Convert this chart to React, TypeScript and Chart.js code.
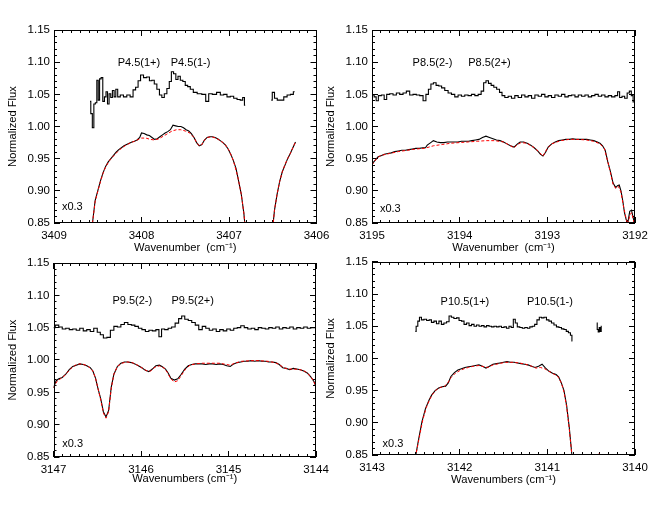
import React, { useEffect, useRef } from 'react';
import { Chart, registerables } from 'chart.js';

Chart.register(...registerables);

const FONT = '"Liberation Sans", Arial, sans-serif';
type Pt = [number, number | null];

const Y_TICKS = [0.85, 0.9, 0.95, 1.0, 1.05, 1.1, 1.15];

// ---------------- Panel 1 ----------------
const p1Ticks = [3409, 3408, 3407, 3406];
const p1Upper: Pt[] = [
  [3408.588, 1.039], [3408.571, 1.020], [3408.553, 0.998], [3408.536, 1.035], [3408.519, 1.037],
  [3408.502, 1.072], [3408.487, 1.041], [3408.471, 1.074], [3408.452, 1.076], [3408.433, 1.039],
  [3408.414, 1.046], [3408.397, 1.054], [3408.380, 1.035], [3408.361, 1.051], [3408.342, 1.045],
  [3408.323, 1.056], [3408.303, 1.046], [3408.284, 1.058], [3408.260, 1.046], [3408.225, 1.049],
  [3408.187, 1.046], [3408.149, 1.049], [3408.111, 1.046], [3408.082, 1.057], [3408.053, 1.061],
  [3408.025, 1.071], [3407.996, 1.080], [3407.958, 1.076], [3407.924, 1.077], [3407.895, 1.071],
  [3407.868, 1.072], [3407.840, 1.066], [3407.809, 1.058], [3407.781, 1.049], [3407.754, 1.045],
  [3407.725, 1.051], [3407.695, 1.059], [3407.670, 1.070], [3407.647, 1.085], [3407.620, 1.082],
  [3407.595, 1.073], [3407.571, 1.078], [3407.542, 1.072], [3407.513, 1.070], [3407.487, 1.064],
  [3407.458, 1.062], [3407.427, 1.058], [3407.389, 1.053], [3407.338, 1.051], [3407.284, 1.050],
  [3407.248, 1.039], [3407.216, 1.051], [3407.166, 1.050], [3407.118, 1.053], [3407.080, 1.049],
  [3407.042, 1.050], [3407.004, 1.046], [3406.966, 1.047], [3406.927, 1.044], [3406.889, 1.042],
  [3406.855, 1.041], [3406.832, 1.045], [3406.815, 1.033], [3406.670, null],
  [3406.517, 1.041], [3406.494, 1.053], [3406.466, 1.044], [3406.431, 1.041], [3406.393, 1.041],
  [3406.355, 1.046], [3406.317, 1.049], [3406.279, 1.050], [3406.250, 1.054],
];
const p1Lower: Pt[] = [
  [3408.62, 0.78], [3408.56, 0.85], [3408.53, 0.885], [3408.50, 0.900], [3408.47, 0.915],
  [3408.44, 0.928], [3408.41, 0.938], [3408.38, 0.945], [3408.35, 0.950], [3408.32, 0.955],
  [3408.29, 0.960], [3408.26, 0.964], [3408.23, 0.967], [3408.20, 0.970], [3408.17, 0.972],
  [3408.14, 0.974], [3408.11, 0.976], [3408.08, 0.977], [3408.05, 0.979], [3408.02, 0.983],
  [3408.00, 0.990], [3407.97, 0.989], [3407.94, 0.987], [3407.91, 0.986], [3407.88, 0.983],
  [3407.85, 0.980], [3407.82, 0.981], [3407.79, 0.984], [3407.76, 0.987], [3407.73, 0.990],
  [3407.70, 0.992], [3407.67, 0.995], [3407.64, 1.002], [3407.61, 1.001], [3407.58, 1.000],
  [3407.55, 1.000], [3407.52, 0.998], [3407.49, 0.995], [3407.46, 0.993], [3407.43, 0.989],
  [3407.40, 0.983], [3407.37, 0.975], [3407.34, 0.970], [3407.31, 0.972], [3407.28, 0.979],
  [3407.25, 0.983], [3407.22, 0.984], [3407.19, 0.984], [3407.16, 0.983], [3407.13, 0.981],
  [3407.10, 0.978], [3407.07, 0.975], [3407.04, 0.971], [3407.01, 0.965], [3406.98, 0.957],
  [3406.95, 0.947], [3406.92, 0.935], [3406.89, 0.915], [3406.86, 0.895], [3406.83, 0.865],
  [3406.80, 0.82], [3406.76, 0.75], [3406.55, 0.75], [3406.51, 0.83], [3406.48, 0.87],
  [3406.45, 0.895], [3406.42, 0.915], [3406.39, 0.930], [3406.36, 0.940], [3406.33, 0.950],
  [3406.30, 0.958], [3406.27, 0.967], [3406.24, 0.976],
];
const p1Model: Pt[] = [
  [3408.62, 0.78], [3408.56, 0.85], [3408.53, 0.883], [3408.50, 0.899], [3408.47, 0.914],
  [3408.44, 0.927], [3408.41, 0.937], [3408.38, 0.944], [3408.35, 0.950], [3408.30, 0.957],
  [3408.25, 0.964], [3408.20, 0.969], [3408.15, 0.973], [3408.10, 0.976], [3408.05, 0.979],
  [3408.00, 0.982], [3407.95, 0.982], [3407.90, 0.980], [3407.85, 0.979], [3407.80, 0.981],
  [3407.75, 0.985], [3407.70, 0.989], [3407.65, 0.993], [3407.60, 0.995], [3407.55, 0.995],
  [3407.50, 0.993], [3407.45, 0.990], [3407.40, 0.983], [3407.37, 0.975], [3407.34, 0.970],
  [3407.31, 0.972], [3407.28, 0.979], [3407.25, 0.983], [3407.20, 0.984], [3407.15, 0.982],
  [3407.10, 0.978], [3407.05, 0.973], [3407.00, 0.963], [3406.95, 0.947], [3406.90, 0.922],
  [3406.86, 0.895], [3406.83, 0.865], [3406.80, 0.82], [3406.76, 0.75], [3406.55, 0.75],
  [3406.51, 0.83], [3406.48, 0.87], [3406.45, 0.895], [3406.42, 0.915], [3406.39, 0.930],
  [3406.36, 0.941], [3406.33, 0.950], [3406.30, 0.958], [3406.27, 0.967], [3406.24, 0.976],
];
const p1Labels = [
  { text: 'P4.5(1+)', wn: 3408.03, f: 1.099, align: 'center' },
  { text: 'P4.5(1-)', wn: 3407.44, f: 1.099, align: 'center' },
  { text: 'x0.3', wn: 3408.91, f: 0.875, align: 'left' },
];

// ---------------- Panel 2 ----------------
const p2Ticks = [3195, 3194, 3193, 3192];
const p2Upper: Pt[] = [
  [3194.989, 1.049], [3194.962, 1.046], [3194.943, 1.040], [3194.912, 1.048], [3194.874, 1.049],
  [3194.848, 1.042], [3194.817, 1.050], [3194.779, 1.051], [3194.741, 1.049], [3194.703, 1.052],
  [3194.665, 1.050], [3194.627, 1.052], [3194.589, 1.055], [3194.551, 1.049], [3194.513, 1.050],
  [3194.475, 1.049], [3194.437, 1.048], [3194.398, 1.040], [3194.372, 1.050], [3194.341, 1.058],
  [3194.315, 1.066], [3194.284, 1.068], [3194.254, 1.064], [3194.223, 1.063], [3194.189, 1.060],
  [3194.151, 1.056], [3194.113, 1.052], [3194.075, 1.050], [3194.037, 1.046], [3193.999, 1.049],
  [3193.961, 1.047], [3193.923, 1.049], [3193.885, 1.048], [3193.846, 1.050], [3193.808, 1.048],
  [3193.770, 1.050], [3193.740, 1.055], [3193.713, 1.068], [3193.687, 1.071], [3193.656, 1.067],
  [3193.626, 1.064], [3193.595, 1.061], [3193.561, 1.058], [3193.530, 1.053], [3193.504, 1.048],
  [3193.466, 1.045], [3193.428, 1.047], [3193.390, 1.044], [3193.352, 1.048], [3193.313, 1.045],
  [3193.275, 1.049], [3193.237, 1.046], [3193.199, 1.048], [3193.161, 1.044], [3193.123, 1.049],
  [3193.085, 1.047], [3193.047, 1.050], [3193.009, 1.046], [3192.971, 1.048], [3192.933, 1.045],
  [3192.895, 1.049], [3192.857, 1.047], [3192.819, 1.050], [3192.781, 1.046], [3192.742, 1.048],
  [3192.704, 1.049], [3192.666, 1.046], [3192.628, 1.049], [3192.590, 1.047], [3192.552, 1.049],
  [3192.514, 1.046], [3192.476, 1.048], [3192.438, 1.050], [3192.400, 1.047], [3192.362, 1.049],
  [3192.324, 1.046], [3192.286, 1.048], [3192.248, 1.046], [3192.210, 1.048], [3192.187, 1.054],
  [3192.164, 1.045], [3192.133, 1.047], [3192.103, 1.044], [3192.076, 1.052], [3192.053, 1.055],
  [3192.031, 1.048], [3192.012, 1.038],
];
const p2Lower: Pt[] = [
  [3195.00, 0.942], [3194.96, 0.948], [3194.93, 0.953], [3194.89, 0.955], [3194.86, 0.957],
  [3194.82, 0.958], [3194.78, 0.959], [3194.74, 0.961], [3194.70, 0.962], [3194.66, 0.963],
  [3194.62, 0.963], [3194.58, 0.964], [3194.54, 0.965], [3194.50, 0.966], [3194.46, 0.966],
  [3194.42, 0.967], [3194.39, 0.967], [3194.37, 0.971], [3194.33, 0.975], [3194.30, 0.978],
  [3194.26, 0.976], [3194.22, 0.975], [3194.18, 0.975], [3194.14, 0.976], [3194.10, 0.976],
  [3194.06, 0.976], [3194.02, 0.976], [3193.98, 0.977], [3193.94, 0.977], [3193.90, 0.977],
  [3193.86, 0.978], [3193.82, 0.979], [3193.78, 0.980], [3193.74, 0.983], [3193.70, 0.985],
  [3193.66, 0.983], [3193.62, 0.981], [3193.58, 0.979], [3193.54, 0.978], [3193.50, 0.976],
  [3193.46, 0.973], [3193.42, 0.970], [3193.38, 0.968], [3193.34, 0.973], [3193.31, 0.976],
  [3193.27, 0.976], [3193.23, 0.974], [3193.19, 0.971], [3193.15, 0.967], [3193.11, 0.962],
  [3193.08, 0.957], [3193.05, 0.954], [3193.02, 0.960], [3192.99, 0.968], [3192.95, 0.973],
  [3192.91, 0.976], [3192.87, 0.978], [3192.83, 0.979], [3192.79, 0.980], [3192.75, 0.980],
  [3192.71, 0.981], [3192.67, 0.980], [3192.63, 0.980], [3192.59, 0.980], [3192.55, 0.980],
  [3192.51, 0.979], [3192.47, 0.978], [3192.43, 0.976], [3192.40, 0.974], [3192.37, 0.970],
  [3192.34, 0.963], [3192.31, 0.945], [3192.28, 0.930], [3192.25, 0.912], [3192.22, 0.905],
  [3192.20, 0.908], [3192.18, 0.909], [3192.16, 0.900], [3192.14, 0.885], [3192.12, 0.866],
  [3192.10, 0.855], [3192.08, 0.852], [3192.06, 0.868], [3192.04, 0.870], [3192.02, 0.858],
  [3192.00, 0.845],
];
const p2Model: Pt[] = [
  [3195.00, 0.940], [3194.95, 0.950], [3194.90, 0.955], [3194.80, 0.958], [3194.70, 0.961],
  [3194.60, 0.963], [3194.50, 0.965], [3194.40, 0.966], [3194.30, 0.970], [3194.20, 0.972],
  [3194.10, 0.974], [3194.00, 0.975], [3193.90, 0.976], [3193.80, 0.977], [3193.70, 0.978],
  [3193.60, 0.978], [3193.50, 0.976], [3193.42, 0.970], [3193.38, 0.967], [3193.34, 0.972],
  [3193.30, 0.975], [3193.23, 0.974], [3193.15, 0.967], [3193.10, 0.961], [3193.05, 0.954],
  [3193.00, 0.966], [3192.95, 0.973], [3192.85, 0.978], [3192.75, 0.980], [3192.65, 0.980],
  [3192.55, 0.979], [3192.47, 0.977], [3192.40, 0.973], [3192.35, 0.966], [3192.31, 0.945],
  [3192.28, 0.928], [3192.25, 0.910], [3192.22, 0.904], [3192.19, 0.907], [3192.16, 0.898],
  [3192.13, 0.875], [3192.10, 0.856], [3192.08, 0.848], [3192.06, 0.862], [3192.04, 0.866],
  [3192.02, 0.856], [3192.00, 0.845],
];
const p2Labels = [
  { text: 'P8.5(2-)', wn: 3194.31, f: 1.099, align: 'center' },
  { text: 'P8.5(2+)', wn: 3193.66, f: 1.099, align: 'center' },
  { text: 'x0.3', wn: 3194.91, f: 0.872, align: 'left' },
];

// ---------------- Panel 3 ----------------
const p3Ticks = [3147, 3146, 3145, 3144];
const p3Upper: Pt[] = [
  [3147.00, 1.050], [3146.96, 1.054], [3146.92, 1.051], [3146.88, 1.048], [3146.84, 1.049],
  [3146.80, 1.047], [3146.76, 1.048], [3146.72, 1.046], [3146.68, 1.049], [3146.64, 1.045],
  [3146.60, 1.047], [3146.56, 1.044], [3146.52, 1.049], [3146.48, 1.043], [3146.45, 1.039],
  [3146.41, 1.034], [3146.37, 1.035], [3146.33, 1.046], [3146.29, 1.052], [3146.25, 1.051],
  [3146.21, 1.055], [3146.17, 1.058], [3146.13, 1.055], [3146.09, 1.054], [3146.05, 1.052],
  [3146.01, 1.049], [3145.97, 1.047], [3145.93, 1.044], [3145.89, 1.046], [3145.85, 1.045],
  [3145.81, 1.047], [3145.78, 1.036], [3145.75, 1.048], [3145.71, 1.047], [3145.67, 1.049],
  [3145.63, 1.051], [3145.59, 1.057], [3145.55, 1.064], [3145.52, 1.068], [3145.48, 1.063],
  [3145.44, 1.061], [3145.40, 1.058], [3145.36, 1.054], [3145.32, 1.047], [3145.28, 1.052],
  [3145.24, 1.049], [3145.20, 1.046], [3145.16, 1.048], [3145.12, 1.044], [3145.08, 1.047],
  [3145.04, 1.045], [3145.00, 1.048], [3144.96, 1.046], [3144.92, 1.049], [3144.88, 1.050],
  [3144.84, 1.053], [3144.80, 1.050], [3144.76, 1.048], [3144.72, 1.049], [3144.68, 1.047],
  [3144.64, 1.050], [3144.60, 1.049], [3144.56, 1.048], [3144.52, 1.050], [3144.48, 1.049],
  [3144.44, 1.051], [3144.40, 1.048], [3144.36, 1.050], [3144.32, 1.049], [3144.28, 1.051],
  [3144.24, 1.048], [3144.20, 1.050], [3144.16, 1.049], [3144.12, 1.051], [3144.08, 1.049],
  [3144.04, 1.050], [3144.00, 1.050],
];
const p3Lower: Pt[] = [
  [3147.00, 0.957], [3146.97, 0.968], [3146.94, 0.971], [3146.90, 0.973], [3146.86, 0.978],
  [3146.82, 0.985], [3146.78, 0.990], [3146.74, 0.992], [3146.70, 0.994], [3146.66, 0.993],
  [3146.62, 0.991], [3146.58, 0.988], [3146.55, 0.983], [3146.52, 0.972], [3146.49, 0.955],
  [3146.46, 0.940], [3146.43, 0.920], [3146.40, 0.912], [3146.37, 0.922], [3146.34, 0.958],
  [3146.31, 0.978], [3146.27, 0.990], [3146.23, 0.995], [3146.19, 0.997], [3146.15, 0.997],
  [3146.11, 0.996], [3146.07, 0.994], [3146.03, 0.991], [3145.99, 0.988], [3145.95, 0.984],
  [3145.91, 0.982], [3145.87, 0.986], [3145.83, 0.991], [3145.79, 0.992], [3145.76, 0.990],
  [3145.72, 0.986], [3145.69, 0.980], [3145.66, 0.972], [3145.62, 0.969], [3145.58, 0.971],
  [3145.54, 0.978], [3145.50, 0.986], [3145.46, 0.991], [3145.42, 0.993], [3145.38, 0.994],
  [3145.34, 0.994], [3145.30, 0.994], [3145.26, 0.993], [3145.22, 0.994], [3145.18, 0.994],
  [3145.14, 0.993], [3145.10, 0.994], [3145.06, 0.993], [3145.02, 0.991], [3144.98, 0.990],
  [3144.94, 0.994], [3144.90, 0.996], [3144.86, 0.997], [3144.82, 0.998], [3144.78, 0.998],
  [3144.74, 0.999], [3144.70, 0.998], [3144.66, 0.999], [3144.62, 0.998], [3144.58, 0.998],
  [3144.54, 0.997], [3144.50, 0.997], [3144.46, 0.996], [3144.42, 0.993], [3144.38, 0.988],
  [3144.34, 0.987], [3144.30, 0.985], [3144.26, 0.987], [3144.22, 0.986], [3144.18, 0.985],
  [3144.14, 0.983], [3144.10, 0.980], [3144.06, 0.974], [3144.02, 0.966], [3144.00, 0.958],
];
const p3Model: Pt[] = [
  [3147.00, 0.957], [3146.96, 0.967], [3146.92, 0.971], [3146.88, 0.975], [3146.84, 0.981],
  [3146.80, 0.987], [3146.75, 0.992], [3146.70, 0.994], [3146.65, 0.993], [3146.60, 0.990],
  [3146.55, 0.983], [3146.52, 0.972], [3146.49, 0.955], [3146.46, 0.938], [3146.43, 0.918],
  [3146.40, 0.910], [3146.37, 0.920], [3146.34, 0.956], [3146.31, 0.978], [3146.27, 0.990],
  [3146.22, 0.995], [3146.16, 0.997], [3146.10, 0.996], [3146.04, 0.992], [3145.98, 0.987],
  [3145.93, 0.983], [3145.89, 0.983], [3145.84, 0.989], [3145.79, 0.991], [3145.74, 0.988],
  [3145.70, 0.981], [3145.66, 0.971], [3145.62, 0.966], [3145.58, 0.968], [3145.54, 0.976],
  [3145.49, 0.986], [3145.44, 0.992], [3145.38, 0.994], [3145.30, 0.995], [3145.20, 0.995],
  [3145.10, 0.995], [3145.02, 0.993], [3144.98, 0.992], [3144.93, 0.995], [3144.85, 0.998],
  [3144.75, 0.999], [3144.65, 0.999], [3144.55, 0.998], [3144.47, 0.996], [3144.42, 0.993],
  [3144.37, 0.988], [3144.32, 0.986], [3144.25, 0.986], [3144.18, 0.985], [3144.12, 0.982],
  [3144.07, 0.976], [3144.03, 0.968], [3144.00, 0.959],
];
const p3Labels = [
  { text: 'P9.5(2-)', wn: 3146.10, f: 1.091, align: 'center' },
  { text: 'P9.5(2+)', wn: 3145.41, f: 1.091, align: 'center' },
  { text: 'x0.3', wn: 3146.90, f: 0.870, align: 'left' },
];

// ---------------- Panel 4 ----------------
const p4Ticks = [3143, 3142, 3141, 3140];
const p4Upper: Pt[] = [
  [3142.506, 1.042], [3142.487, 1.050], [3142.468, 1.058], [3142.449, 1.064], [3142.423, 1.060],
  [3142.392, 1.061], [3142.362, 1.059], [3142.335, 1.060], [3142.309, 1.056], [3142.278, 1.058],
  [3142.252, 1.054], [3142.222, 1.058], [3142.195, 1.053], [3142.165, 1.055], [3142.134, 1.057],
  [3142.108, 1.066], [3142.081, 1.064], [3142.051, 1.062], [3142.020, 1.063], [3141.994, 1.059],
  [3141.963, 1.058], [3141.937, 1.053], [3141.906, 1.055], [3141.880, 1.051], [3141.849, 1.053],
  [3141.823, 1.050], [3141.792, 1.052], [3141.766, 1.050], [3141.735, 1.051], [3141.709, 1.049],
  [3141.678, 1.051], [3141.652, 1.050], [3141.622, 1.049], [3141.595, 1.050], [3141.565, 1.049],
  [3141.538, 1.050], [3141.508, 1.048], [3141.481, 1.049], [3141.451, 1.047], [3141.424, 1.050],
  [3141.401, 1.048], [3141.375, 1.061], [3141.356, 1.055], [3141.329, 1.049], [3141.299, 1.048],
  [3141.272, 1.047], [3141.242, 1.048], [3141.215, 1.047], [3141.185, 1.049], [3141.158, 1.050],
  [3141.132, 1.053], [3141.105, 1.060], [3141.078, 1.064], [3141.052, 1.063], [3141.025, 1.064],
  [3140.995, 1.060], [3140.968, 1.058], [3140.938, 1.055], [3140.911, 1.052], [3140.881, 1.049],
  [3140.854, 1.048], [3140.824, 1.046], [3140.797, 1.045], [3140.771, 1.042], [3140.748, 1.040],
  [3140.725, 1.036], [3140.714, 1.027], [3140.580, null],
  [3140.437, 1.055], [3140.425, 1.045], [3140.414, 1.041], [3140.402, 1.048], [3140.391, 1.042],
  [3140.380, 1.050],
];
const p4Lower: Pt[] = [
  [3142.52, 0.80], [3142.50, 0.850], [3142.47, 0.873], [3142.43, 0.902], [3142.39, 0.922],
  [3142.35, 0.935], [3142.32, 0.943], [3142.28, 0.950], [3142.24, 0.954], [3142.20, 0.956],
  [3142.16, 0.957], [3142.13, 0.962], [3142.10, 0.972], [3142.06, 0.978], [3142.02, 0.982],
  [3141.98, 0.984], [3141.94, 0.986], [3141.90, 0.987], [3141.86, 0.988], [3141.82, 0.989],
  [3141.78, 0.990], [3141.74, 0.988], [3141.70, 0.985], [3141.66, 0.988], [3141.62, 0.991],
  [3141.58, 0.992], [3141.54, 0.993], [3141.50, 0.994], [3141.46, 0.995], [3141.42, 0.994],
  [3141.38, 0.994], [3141.34, 0.993], [3141.30, 0.992], [3141.26, 0.991], [3141.22, 0.990],
  [3141.18, 0.988], [3141.14, 0.986], [3141.10, 0.988], [3141.06, 0.991], [3141.02, 0.985],
  [3140.98, 0.980], [3140.94, 0.977], [3140.90, 0.975], [3140.87, 0.971], [3140.84, 0.962],
  [3140.81, 0.950], [3140.78, 0.927], [3140.75, 0.893], [3140.72, 0.850], [3140.70, 0.80],
];
const p4Model: Pt[] = [
  [3142.52, 0.80], [3142.50, 0.850], [3142.46, 0.878], [3142.42, 0.905], [3142.38, 0.924],
  [3142.34, 0.937], [3142.30, 0.946], [3142.26, 0.952], [3142.22, 0.955], [3142.18, 0.956],
  [3142.14, 0.961], [3142.10, 0.970], [3142.05, 0.977], [3142.00, 0.981], [3141.95, 0.984],
  [3141.90, 0.986], [3141.84, 0.988], [3141.78, 0.989], [3141.72, 0.987], [3141.68, 0.986],
  [3141.62, 0.990], [3141.55, 0.992], [3141.48, 0.994], [3141.40, 0.994], [3141.32, 0.993],
  [3141.25, 0.991], [3141.18, 0.988], [3141.13, 0.985], [3141.08, 0.986], [3141.03, 0.984],
  [3140.98, 0.980], [3140.93, 0.976], [3140.88, 0.972], [3140.84, 0.962], [3140.81, 0.948],
  [3140.78, 0.925], [3140.75, 0.891], [3140.72, 0.850], [3140.70, 0.80], [3140.45, 0.78],
  [3140.41, 0.852], [3140.37, 0.78],
];
const p4Labels = [
  { text: 'P10.5(1+)', wn: 3141.94, f: 1.088, align: 'center' },
  { text: 'P10.5(1-)', wn: 3140.97, f: 1.088, align: 'center' },
  { text: 'x0.3', wn: 3142.88, f: 0.867, align: 'left' },
];

// ---------------- Layout ----------------
type PanelCfg = {
  canvas: { left: number; top: number; w: number; h: number };
  area: { left: number; top: number; right: number; bottom: number };
  xH: number;
  xTitle: string;
  xTicks: number[];
  upper: Pt[];
  lower: Pt[];
  model: Pt[];
  labels: { text: string; wn: number; f: number; align: string }[];
};

const PANELS: PanelCfg[] = [
  {
    canvas: { left: 0, top: 0, w: 345, h: 255 },
    area: { left: 54, top: 30, right: 316.5, bottom: 223 },
    xH: 31.6, xTitle: 'Wavenumber  (cm\u207B\u00B9)', xTicks: p1Ticks,
    upper: p1Upper, lower: p1Lower, model: p1Model, labels: p1Labels,
  },
  {
    canvas: { left: 318, top: 0, w: 342, h: 255 },
    area: { left: 372, top: 30, right: 635, bottom: 223 },
    xH: 31.6, xTitle: 'Wavenumber  (cm\u207B\u00B9)', xTicks: p2Ticks,
    upper: p2Upper, lower: p2Lower, model: p2Model, labels: p2Labels,
  },
  {
    canvas: { left: 0, top: 245, w: 345, h: 265 },
    area: { left: 53.5, top: 263, right: 316, bottom: 457 },
    xH: 28.6, xTitle: 'Wavenumbers (cm\u207B\u00B9)', xTicks: p3Ticks,
    upper: p3Upper, lower: p3Lower, model: p3Model, labels: p3Labels,
  },
  {
    canvas: { left: 318, top: 245, w: 342, h: 265 },
    area: { left: 372, top: 261, right: 635, bottom: 455 },
    xH: 31.6, xTitle: 'Wavenumbers (cm\u207B\u00B9)', xTicks: p4Ticks,
    upper: p4Upper, lower: p4Lower, model: p4Model, labels: p4Labels,
  },
];

const toXY = (pts: Pt[]) => pts.map(([x, y]) => ({ x, y }));

function minorValues(lo: number, hi: number, perUnit: number): number[] {
  const out: number[] = [];
  for (let k = Math.round(lo * perUnit); k <= Math.round(hi * perUnit); k++) out.push(k / perUnit);
  return out;
}

function makeFramePlugin(cfg: PanelCfg) {
  return {
    id: 'idlFrame',
    afterDraw(chart: any) {
      const ctx: CanvasRenderingContext2D = chart.ctx;
      const a = chart.chartArea;
      const xs = chart.scales.x;
      const ys = chart.scales.y;
      const L = Math.round(a.left);
      const R = Math.round(a.right) - 1;
      const T = Math.round(a.top);
      const B = Math.round(a.bottom) - 1;
      ctx.save();
      ctx.fillStyle = '#000';
      ctx.fillRect(L, T, R - L + 1, 1);
      ctx.fillRect(L, B, R - L + 1, 1);
      ctx.fillRect(L, T, 1, B - T + 1);
      ctx.fillRect(R, T, 1, B - T + 1);
      ctx.font = `11px ${FONT}`;
      ctx.textBaseline = 'middle';
      for (const l of cfg.labels) {
        ctx.textAlign = l.align as CanvasTextAlign;
        ctx.fillText(l.text, xs.getPixelForValue(l.wn), ys.getPixelForValue(l.f));
      }
      ctx.restore();
    },
  };
}

function tickScale(base: any, position: string, values: number[], len: number, horizontal: boolean, weight: number) {
  return {
    ...base,
    position,
    weight,
    grid: {
      display: true, drawOnChartArea: false, drawTicks: true,
      tickLength: -len, tickColor: '#000', tickWidth: 1, color: '#000', lineWidth: 1,
    },
    border: { display: false },
    ticks: { display: false },
    title: { display: false },
    afterBuildTicks: (s: any) => { s.ticks = values.map((v) => ({ value: v })); },
    afterFit: (s: any) => { if (horizontal) s.height = 0; else s.width = 0; },
  };
}

function Panel({ cfg }: { cfg: PanelCfg }) {
  const ref = useRef<HTMLCanvasElement>(null);
  useEffect(() => {
    const c = cfg.canvas;
    const a = cfg.area;
    const yW = a.left - c.left;
    const padTop = a.top - c.top;
    const padRight = c.left + c.w - a.right;
    const padBottom = c.top + c.h - a.bottom - cfg.xH;
    const tickFont = { family: FONT, size: 11.5 };
    const titleFont = { family: FONT, size: 11.2 };
    const xMin = Math.min(...cfg.xTicks);
    const xMax = Math.max(...cfg.xTicks);
    const xBase = { type: 'linear', min: xMin, max: xMax, reverse: true };
    const yBase = { type: 'linear', min: 0.85, max: 1.15 };
    const xMinor = minorValues(xMin, xMax, 10);
    const yMinor = minorValues(0.85, 1.15, 100);
    const majorGrid = {
      display: true, drawOnChartArea: false, drawTicks: true,
      tickLength: -6, tickColor: '#000', tickWidth: 1, color: '#000', lineWidth: 1,
    };
    const chart = new Chart(ref.current as HTMLCanvasElement, {
      type: 'line',
      data: {
        datasets: [
          {
            data: toXY(cfg.model) as any,
            borderColor: '#ff0000', borderWidth: 1, borderDash: [3, 2],
            pointRadius: 0, tension: 0, order: 0,
          },
          {
            data: toXY(cfg.lower) as any,
            borderColor: '#000', borderWidth: 1.1, tension: 0,
            pointRadius: 0, order: 1,
          },
          {
            data: toXY(cfg.upper) as any,
            borderColor: '#000', borderWidth: 1.1, stepped: 'middle',
            pointRadius: 0, order: 1, spanGaps: false,
          },
        ],
      },
      options: {
        animation: false,
        responsive: false,
        events: [],
        layout: { padding: { left: 0, top: padTop, right: padRight, bottom: padBottom } },
        plugins: {
          legend: { display: false },
          tooltip: { enabled: false },
        },
        scales: {
          x: {
            ...xBase,
            position: 'bottom',
            weight: 1,
            grid: majorGrid,
            border: { display: false },
            afterBuildTicks: (s: any) => { s.ticks = cfg.xTicks.map((v) => ({ value: v })); },
            afterFit: (s: any) => { s.height = cfg.xH; },
            ticks: {
              color: '#000', font: tickFont, padding: 12, autoSkip: false, maxRotation: 0, minRotation: 0,
              callback: (v: any) => String(v),
            },
            title: { display: true, text: cfg.xTitle, color: '#000', font: titleFont, padding: 0 },
          },
          xMinorB: tickScale(xBase, 'bottom', xMinor, 3, true, 0),
          xTopMajor: tickScale(xBase, 'top', cfg.xTicks, 6, true, 0),
          xTopMinor: tickScale(xBase, 'top', xMinor, 3, true, 1),
          y: {
            ...yBase,
            position: 'left',
            weight: 1,
            grid: majorGrid,
            border: { display: false },
            afterBuildTicks: (s: any) => { s.ticks = Y_TICKS.map((v) => ({ value: v })); },
            afterFit: (s: any) => { s.width = yW; },
            ticks: {
              color: '#000', font: tickFont, padding: 10,
              callback: (v: any) => Number(v).toFixed(2),
            },
            title: {
              display: true, text: 'Normalized Flux', color: '#000', font: titleFont,
              padding: { top: 6.4, bottom: 0 },
            },
          },
          yMinorL: tickScale(yBase, 'left', yMinor, 3, false, 0),
          yRightMajor: tickScale(yBase, 'right', Y_TICKS, 6, false, 0),
          yRightMinor: tickScale(yBase, 'right', yMinor, 3, false, 1),
        },
      },
      plugins: [makeFramePlugin(cfg)],
    } as any);
    return () => chart.destroy();
  }, [cfg]);
  const c = cfg.canvas;
  return (
    <canvas
      ref={ref}
      width={c.w}
      height={c.h}
      style={{ position: 'absolute', left: c.left, top: c.top, width: c.w, height: c.h }}
    />
  );
}

export default function App() {
  return (
    <div style={{ position: 'absolute', left: 0, top: 0, width: 660, height: 510, background: '#fff' }}>
      {PANELS.map((p, i) => (
        <Panel key={i} cfg={p} />
      ))}
    </div>
  );
}
